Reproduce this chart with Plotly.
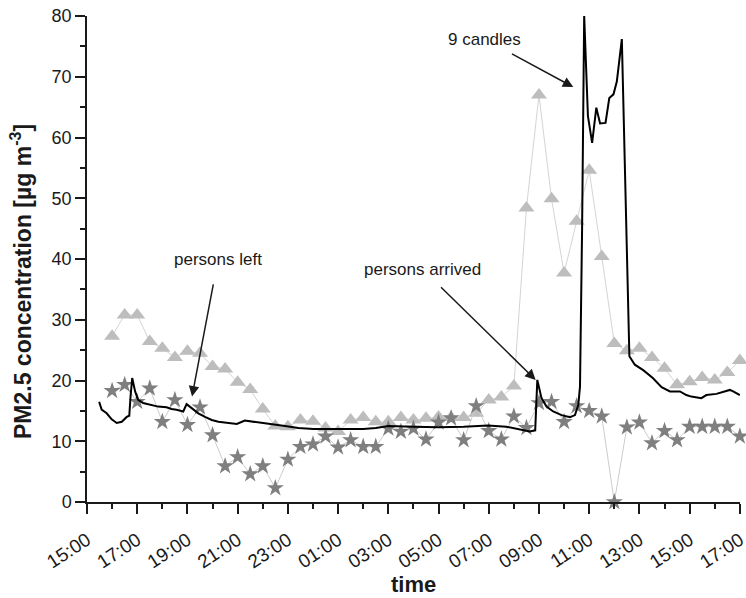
import datetime as dt
import plotly.graph_objects as go

# Half-hourly samples (clock time, run starts 15:00 on day 1 and ends 17:00 on day 2)
sample_times = [
    "16:00", "16:30", "17:00", "17:30", "18:00", "18:30", "19:00", "19:30",
    "20:00", "20:30", "21:00", "21:30", "22:00", "22:30", "23:00", "23:30",
    "00:00", "00:30", "01:00", "01:30", "02:00", "02:30", "03:00", "03:30",
    "04:00", "04:30", "05:00", "05:30", "06:00", "06:30", "07:00", "07:30",
    "08:00", "08:30", "09:00", "09:30", "10:00", "10:30", "11:00", "11:30",
    "12:00", "12:30", "13:00", "13:30", "14:00", "14:30", "15:00", "15:30",
    "16:00", "16:30", "17:00",
]

# PM2.5 series shown with triangles
triangle_pm = [
    27.3, 30.8, 30.8, 26.4, 25.3, 23.8, 24.8, 24.5,
    22.3, 21.9, 19.7, 18.5, 15.3, 12.5, 12.4, 13.5,
    13.3, 12.2, 11.6, 13.5, 13.9, 13.2, 13.2, 13.9,
    13.5, 13.8, 14.0, 13.9, 13.9, 14.6, 16.8, 17.3,
    19.1, 48.4, 67.0, 49.9, 37.7, 46.2, 54.6, 40.4,
    26.1, 24.9, 25.3, 23.8, 22.0, 19.3, 19.8, 20.5,
    20.1, 21.3, 23.3,
]

# PM2.5 series shown with stars
star_pm = [
    18.3, 19.3, 16.5, 18.7, 13.2, 16.8, 12.7, 15.6,
    11.0, 5.9, 7.4, 4.6, 5.9, 2.3, 7.0, 9.1,
    9.5, 10.8, 9.0, 10.2, 9.1, 9.1, 12.1, 11.6,
    12.1, 10.3, 13.1, 13.8, 10.2, 15.8, 11.7, 10.3,
    14.1, 12.2, 16.3, 16.5, 13.2, 15.8, 15.0, 14.1,
    0.0, 12.3, 13.1, 9.7, 11.7, 10.2, 12.4, 12.4,
    12.4, 12.4, 10.8,
]

# Continuous monitor (black line)
monitor_times = [
    "15:29", "15:35", "15:47", "15:59", "16:11", "16:23", "16:35", "16:41",
    "16:44", "16:48", "16:55", "17:02", "17:14", "17:31", "17:50", "18:10",
    "18:22", "18:34", "18:50", "18:58", "19:10", "19:26", "19:42", "19:58",
    "20:14", "20:38", "20:58", "21:17", "21:41", "22:21", "22:53", "23:25",
    "00:01", "01:00", "02:00", "02:30", "03:00", "04:00", "05:00", "06:00",
    "06:58", "07:42", "08:14", "08:38", "08:51", "08:56", "09:06", "09:18",
    "09:34", "09:54", "10:14", "10:26", "10:34", "10:38", "10:43", "10:48",
    "10:57", "11:07", "11:17", "11:26", "11:39", "11:48", "11:58", "12:06",
    "12:18", "12:36", "12:49", "13:09", "13:32", "13:53", "14:13", "14:37",
    "14:52", "15:04", "15:28", "15:40", "16:04", "16:36", "16:44", "17:00",
]
monitor_pm = [
    16.5, 15.2, 14.6, 13.6, 13.0, 13.2, 14.0, 14.2,
    17.3, 20.4, 18.2, 16.8, 16.3, 16.0, 15.7, 15.6,
    15.3, 15.2, 14.9, 16.1, 15.4, 14.6, 14.0, 13.5,
    13.2, 13.0, 12.85, 13.4, 13.2, 12.85, 12.5, 12.2,
    12.0, 12.0, 12.0, 12.2, 12.5, 12.4, 12.3, 12.4,
    12.6, 12.4, 12.0, 11.6, 11.8, 20.1, 17.1, 15.7,
    14.9, 14.3, 13.95, 14.3, 16.0, 19.0, 45.0, 80.0,
    63.5, 59.1, 64.9, 62.3, 62.4, 66.5, 67.1, 69.2,
    76.2, 24.0, 22.6, 21.7, 20.4, 18.9, 18.2, 18.2,
    17.6, 17.35, 17.1, 17.6, 17.8, 18.45, 18.2, 17.6,
]

# Event labels: (text, label time, label level, arrow tip time, tip level, gap before arrow)
events = [
    ("persons left", "20:13", 39.9, "19:11", 17.35, 14),
    ("persons arrived", "04:22", 38.3, "08:52", 20.1, 10),
    ("9 candles", "06:50", 76.2, "10:22", 68.3, 8),
]

START = dt.datetime(2000, 1, 1, 15, 0)
END = START + dt.timedelta(hours=26)


def clock(t):
    """Map an HH:MM clock time onto the 15:00 -> 17:00 (next day) run."""
    h, m = map(int, t.split(":"))
    stamp = START.replace(hour=h, minute=m)
    if stamp < START:
        stamp += dt.timedelta(days=1)
    return stamp


def clock_series(times):
    out = []
    for t in times:
        stamp = clock(t)
        if out and stamp <= out[-1]:
            stamp += dt.timedelta(days=1)
        out.append(stamp)
    return out


sample_x = clock_series(sample_times)
sample_x[-1] = END  # final 17:00 closes the run
monitor_x = clock_series(monitor_times)
monitor_x[-1] = END

FONT = "Liberation Sans, Arial, sans-serif"
INK = "#1a1a1a"

fig = go.Figure()
fig.add_trace(go.Scatter(
    x=sample_x, y=triangle_pm, mode="lines+markers",
    line=dict(color="#d4d4d4", width=1),
    marker=dict(symbol="triangle-up", size=14, color="#bdbdbd"),
    cliponaxis=False,
))
fig.add_trace(go.Scatter(
    x=sample_x, y=star_pm, mode="lines+markers",
    line=dict(color="#cccccc", width=1),
    marker=dict(symbol="star", size=13, color="#7f7f7f"),
    cliponaxis=False,
))
fig.add_trace(go.Scatter(
    x=monitor_x, y=monitor_pm, mode="lines",
    line=dict(color="#000000", width=2),
))

annotations = []
for text, tx, ty, hx, hy, gap in events:
    annotations.append(dict(
        x=clock(hx), y=hy, ax=clock(tx), ay=ty, xref="x", yref="y",
        axref="x", ayref="y", text=text, showarrow=True,
        font=dict(family=FONT, size=17, color=INK),
        arrowhead=2, arrowsize=1.4, arrowwidth=1.5, arrowcolor=INK,
        standoff=0, startstandoff=gap,
    ))

# axis titles
annotations.append(dict(
    x=0, y=0.5, xref="paper", yref="paper", xshift=-66, yshift=-23,
    text="<b>PM2.5 concentration [µg m<sup>-3</sup>]</b>", textangle=-90,
    showarrow=False, xanchor="center", yanchor="middle",
    font=dict(family=FONT, size=23, color=INK),
))
annotations.append(dict(
    x=0.5, y=0, xref="paper", yref="paper", yshift=-82,
    text="<b>time</b>", showarrow=False, xanchor="center", yanchor="middle",
    font=dict(family=FONT, size=22, color=INK),
))

fig.update_layout(
    width=746, height=598,
    margin=dict(l=87, r=6, t=16, b=96, autoexpand=False),
    paper_bgcolor="white", plot_bgcolor="white",
    showlegend=False,
    font=dict(family=FONT, size=18, color=INK),
    annotations=annotations,
)
fig.update_xaxes(
    type="date", range=[START, END + dt.timedelta(seconds=20)],
    tick0=START, dtick=2 * 3600 * 1000, tickformat="%H:%M", tickangle=-33,
    ticks="outside", ticklen=10, tickwidth=1.5, tickcolor=INK,
    ticklabelstandoff=8, ticklabeloverflow="allow", automargin=False,
    minor=dict(dtick=3600 * 1000, ticks="outside", ticklen=5, tickwidth=1.5, tickcolor=INK),
    showline=True, linecolor=INK, linewidth=1.5,
    showgrid=False, zeroline=False,
    tickfont=dict(family=FONT, size=19, color=INK),
)
fig.update_yaxes(
    range=[0, 80], dtick=10, automargin=False,
    ticks="outside", ticklen=10, tickwidth=1.5, tickcolor=INK,
    minor=dict(dtick=5, ticks="outside", ticklen=5, tickwidth=1.5, tickcolor=INK),
    showline=True, linecolor=INK, linewidth=1.5,
    showgrid=False, zeroline=False,
    tickfont=dict(family=FONT, size=18, color=INK),
)

fig.write_html("out.html")
